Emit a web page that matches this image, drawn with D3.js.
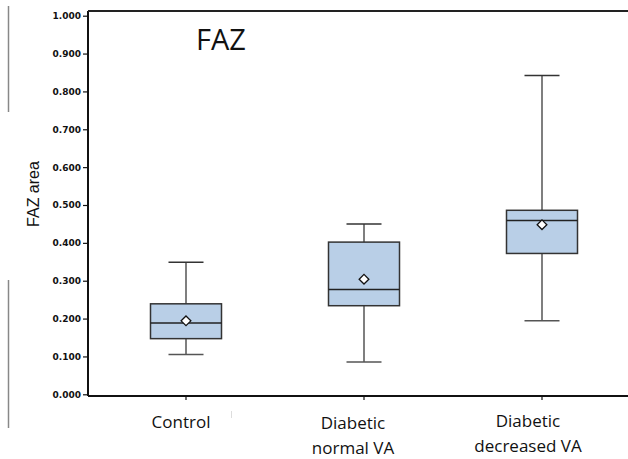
<!DOCTYPE html>
<html lang="en">
<head>
    <meta charset="UTF-8">
    <title>FAZ area</title>
    <script src="https://d3js.org/d3.v7.min.js"></script>
    <style>
        body { margin: 0; background: #fff; }
        .tick-label { font-family: "DejaVu Sans", sans-serif; font-weight: bold; font-size: 9px; fill: #111; }
        .cat-label { font-family: "Open Sans", sans-serif; font-size: 17px; fill: #111; }
    </style>
</head>
<body>
    <div id="chart"></div>

    <script>
        // 数据
        const categories = ["Control", "Diabetic normal VA", "Diabetic decreased VA"];
        const categoryLines = [["Control"], ["Diabetic", "normal VA"], ["Diabetic", "decreased VA"]];
        const minVals    = [0.105, 0.085, 0.194];
        const q1Vals     = [0.147, 0.234, 0.372];
        const medianVals = [0.188, 0.277, 0.459];
        const q3Vals     = [0.239, 0.402, 0.486];
        const maxVals    = [0.349, 0.450, 0.842];
        const meanVals   = [0.194, 0.304, 0.448];
        const yTicks = [0, 0.1, 0.2, 0.3, 0.4, 0.5, 0.6, 0.7, 0.8, 0.9, 1.0];

        const width = 628, height = 459;
        const svg = d3.select('#chart').append('svg')
            .attr('width', width)
            .attr('height', height);

        const y = d3.scaleLinear().domain([0, 1]).range([394.3, 15.7]);
        const x = d3.scalePoint().domain(categories).range([186, 542]);
        const axisX = 88, topY = 11, bottomY = 396;

        // 左边的灰色竖线
        svg.append('line').attr('x1', 8.5).attr('x2', 8.5).attr('y1', 6).attr('y2', 112)
            .attr('stroke', '#888').attr('stroke-width', 1.5);
        svg.append('line').attr('x1', 8.5).attr('x2', 8.5).attr('y1', 280).attr('y2', 428)
            .attr('stroke', '#888').attr('stroke-width', 1.5);
        svg.append('line').attr('x1', 231.5).attr('x2', 231.5).attr('y1', 411).attr('y2', 418)
            .attr('stroke', '#ddd').attr('stroke-width', 1);

        // y 轴
        const yAxis = svg.append('g')
            .attr('transform', `translate(${axisX},0)`)
            .call(d3.axisLeft(y).tickValues(yTicks).tickFormat(d3.format('.3f')).tickSize(5).tickPadding(2));
        yAxis.select('.domain').remove();
        yAxis.selectAll('.tick line').attr('stroke', '#111').attr('stroke-width', 1.2);
        yAxis.selectAll('.tick text').attr('class', 'tick-label');

        // 框线
        svg.append('line').attr('x1', axisX).attr('x2', axisX).attr('y1', topY).attr('y2', bottomY)
            .attr('stroke', '#111').attr('stroke-width', 2);
        svg.append('line').attr('x1', axisX).attr('x2', width).attr('y1', topY).attr('y2', topY)
            .attr('stroke', '#222').attr('stroke-width', 1.8);
        svg.append('line').attr('x1', axisX).attr('x2', width).attr('y1', bottomY).attr('y2', bottomY)
            .attr('stroke', '#111').attr('stroke-width', 2);

        // x 轴刻度
        svg.append('g').selectAll('line').data(categories).enter().append('line')
            .attr('x1', d => x(d)).attr('x2', d => x(d))
            .attr('y1', bottomY).attr('y2', bottomY + 4)
            .attr('stroke', '#111').attr('stroke-width', 1.2);

        // 类别标签
        const labelShift = [-5, -11, -14];
        const labelTop = [428, 429, 427];
        categories.forEach((c, i) => {
            const t = svg.append('text').attr('class', 'cat-label')
                .attr('text-anchor', 'middle')
                .attr('x', x(c) + labelShift[i])
                .attr('y', labelTop[i]);
            categoryLines[i].forEach((line, j) => {
                t.append('tspan').attr('x', x(c) + labelShift[i]).attr('dy', j === 0 ? 0 : 24.5).text(line);
            });
        });

        // 箱线图
        const boxW = 71, capW = 35;
        const boxes = svg.append('g').selectAll('g').data(categories).enter().append('g');

        boxes.append('line')
            .attr('x1', d => x(d)).attr('x2', d => x(d))
            .attr('y1', (d, i) => y(maxVals[i])).attr('y2', (d, i) => y(minVals[i]))
            .attr('stroke', '#555').attr('stroke-width', 1.5);
        boxes.append('line')
            .attr('x1', d => x(d) - capW / 2).attr('x2', d => x(d) + capW / 2)
            .attr('y1', (d, i) => y(maxVals[i])).attr('y2', (d, i) => y(maxVals[i]))
            .attr('stroke', '#333').attr('stroke-width', 1.5);
        boxes.append('line')
            .attr('x1', d => x(d) - capW / 2).attr('x2', d => x(d) + capW / 2)
            .attr('y1', (d, i) => y(minVals[i])).attr('y2', (d, i) => y(minVals[i]))
            .attr('stroke', '#555').attr('stroke-width', 1.5);
        boxes.append('rect')
            .attr('x', d => x(d) - boxW / 2).attr('width', boxW)
            .attr('y', (d, i) => y(q3Vals[i]))
            .attr('height', (d, i) => y(q1Vals[i]) - y(q3Vals[i]))
            .attr('fill', '#b9cfe7').attr('stroke', '#333').attr('stroke-width', 1.5);
        boxes.append('line')
            .attr('x1', d => x(d) - boxW / 2).attr('x2', d => x(d) + boxW / 2)
            .attr('y1', (d, i) => y(medianVals[i])).attr('y2', (d, i) => y(medianVals[i]))
            .attr('stroke', '#222').attr('stroke-width', 1.5);
        boxes.append('path')
            .attr('d', d3.symbol(d3.symbolDiamond2, 60))
            .attr('transform', (d, i) => `translate(${x(d)},${y(meanVals[i])})`)
            .attr('fill', '#fff').attr('stroke', '#111').attr('stroke-width', 1.3);

        // 标题和 y 轴名称
        svg.append('text').attr('x', 196).attr('y', 50)
            .attr('font-family', '"Open Sans", sans-serif').attr('font-size', 29).attr('fill', '#111')
            .text('FAZ');
        svg.append('text')
            .attr('transform', 'translate(39,194) rotate(-90)')
            .attr('text-anchor', 'middle')
            .attr('font-family', '"Liberation Sans", Arial, sans-serif').attr('font-size', 16).attr('fill', '#111')
            .text('FAZ area');
    </script>
</body>
</html>
